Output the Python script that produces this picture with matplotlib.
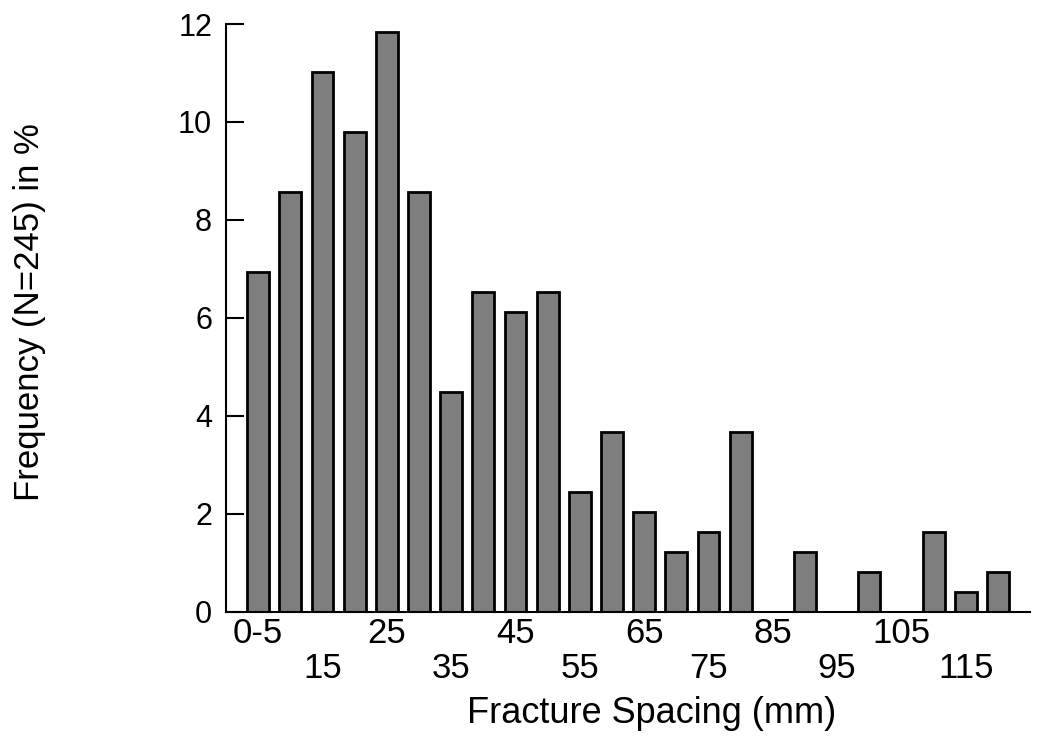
import matplotlib
matplotlib.use("Agg")
import matplotlib.pyplot as plt
import matplotlib.transforms as mtransforms

## Fracture spacing bins (5 mm wide), frequency in % of N=245
bins = list(range(24))
freq = [6.94, 8.57, 11.02, 9.80, 11.84, 8.57, 4.49, 6.53, 6.12, 6.53,
        2.45, 3.67, 2.04, 1.22, 1.63, 3.67, 0.0, 1.22, 0.0, 0.82,
        0.0, 1.63, 0.41, 0.82]
xlabels = ['0-5', '15', '25', '35', '45', '55', '65', '75', '85', '95', '105', '115']
ytick_vals = [0, 2, 4, 6, 8, 10, 12]

plt.rcParams['font.family'] = ['Liberation Sans', 'DejaVu Sans']

fig = plt.figure(figsize=(10.39, 7.39), dpi=100)
ax = fig.add_axes([0.2175, 0.172, 0.774, 0.7955])

ax.bar(bins, freq, width=0.68, color='#7e7e7e', edgecolor='black', linewidth=2)

ax.set_xlim(-1, 24)
ax.set_ylim(0, 12)
ax.spines['top'].set_visible(False)
ax.spines['right'].set_visible(False)
ax.spines['left'].set_linewidth(1.5)
ax.spines['bottom'].set_linewidth(1.5)

ax.set_yticks(ytick_vals)
ax.tick_params(axis='y', direction='in', length=13, width=1.5, labelsize=22, pad=10)
ax.set_xticks([])

## staggered x labels, two rows
trans = mtransforms.blended_transform_factory(ax.transData, ax.transAxes)
for i, lab in enumerate(xlabels):
    row_y = -0.008 if i % 2 == 0 else -0.068
    ax.text(2 * i, row_y, lab, transform=trans, ha='center', va='top', fontsize=25)

fig.text(0.627, 0.034, 'Fracture Spacing (mm)', ha='center', va='center', fontsize=26)
fig.text(0.028, 0.578, 'Frequency (N=245) in %', ha='center', va='center',
         rotation=90, fontsize=25)

fig.savefig('out.png', dpi=100)
